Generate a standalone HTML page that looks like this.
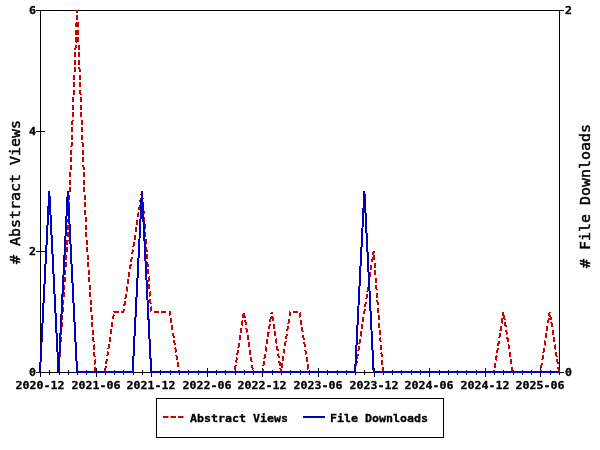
<!DOCTYPE html>
<html><head><meta charset="utf-8"><title>Chart</title>
<style>html,body{margin:0;padding:0;background:#fff}svg{display:block}</style></head>
<body>
<svg width="600" height="450" viewBox="0 0 600 450">
<rect width="600" height="450" fill="#fff"/>
<g stroke="#000" stroke-width="1" shape-rendering="crispEdges" fill="none">
<path d="M40.5 10.5V372.5 M559.5 10.5V372.5 M40.5 10.5H559.5 M40.5 372.5H559.5"/>
<path d="M36 372.5H45"/>
<path d="M36 251.5H45"/>
<path d="M36 131.5H45"/>
<path d="M36 10.5H45"/>
<path d="M555 372.5H564"/>
<path d="M555 10.5H564"/>
<path d="M40.5 368V377"/>
<path d="M49.5 370V375"/>
<path d="M59.5 370V375"/>
<path d="M68.5 370V375"/>
<path d="M77.5 370V375"/>
<path d="M86.5 370V375"/>
<path d="M96.5 368V377"/>
<path d="M105.5 370V375"/>
<path d="M114.5 370V375"/>
<path d="M123.5 370V375"/>
<path d="M133.5 370V375"/>
<path d="M142.5 370V375"/>
<path d="M151.5 368V377"/>
<path d="M160.5 370V375"/>
<path d="M170.5 370V375"/>
<path d="M179.5 370V375"/>
<path d="M188.5 370V375"/>
<path d="M198.5 370V375"/>
<path d="M207.5 368V377"/>
<path d="M216.5 370V375"/>
<path d="M225.5 370V375"/>
<path d="M235.5 370V375"/>
<path d="M244.5 370V375"/>
<path d="M253.5 370V375"/>
<path d="M262.5 368V377"/>
<path d="M272.5 370V375"/>
<path d="M281.5 370V375"/>
<path d="M290.5 370V375"/>
<path d="M300.5 370V375"/>
<path d="M309.5 370V375"/>
<path d="M318.5 368V377"/>
<path d="M327.5 370V375"/>
<path d="M337.5 370V375"/>
<path d="M346.5 370V375"/>
<path d="M355.5 370V375"/>
<path d="M364.5 370V375"/>
<path d="M374.5 368V377"/>
<path d="M383.5 370V375"/>
<path d="M392.5 370V375"/>
<path d="M401.5 370V375"/>
<path d="M411.5 370V375"/>
<path d="M420.5 370V375"/>
<path d="M429.5 368V377"/>
<path d="M439.5 370V375"/>
<path d="M448.5 370V375"/>
<path d="M457.5 370V375"/>
<path d="M466.5 370V375"/>
<path d="M476.5 370V375"/>
<path d="M485.5 368V377"/>
<path d="M494.5 370V375"/>
<path d="M503.5 370V375"/>
<path d="M513.5 370V375"/>
<path d="M522.5 370V375"/>
<path d="M531.5 370V375"/>
<path d="M540.5 368V377"/>
<path d="M550.5 370V375"/>
<path d="M559.5 370V375"/>
</g>
<polyline points="58.54,372.00 67.80,236.25 77.07,10.00 86.34,236.25 95.61,372.00 104.88,372.00 114.14,311.67 123.41,311.67 132.68,251.33 141.95,191.00 151.21,311.67 160.48,311.67 169.75,311.67 179.02,372.00 188.29,372.00 197.55,372.00 206.82,372.00 216.09,372.00 225.36,372.00 234.62,372.00 243.89,311.67 253.16,372.00 262.43,372.00 271.70,311.67 280.96,372.00 290.23,311.67 299.50,311.67 308.77,372.00 318.04,372.00 327.30,372.00 336.57,372.00 345.84,372.00 355.11,372.00 364.38,311.67 373.64,251.33 382.91,372.00 392.18,372.00 401.45,372.00 410.71,372.00 419.98,372.00 429.25,372.00 438.52,372.00 447.79,372.00 457.05,372.00 466.32,372.00 475.59,372.00 484.86,372.00 494.12,372.00 503.39,311.67 512.66,372.00 521.93,372.00 531.20,372.00 540.46,372.00 549.73,311.67 559.00,372.00" fill="none" stroke="#cc0000" stroke-width="2" stroke-dasharray="5 2.5" stroke-linejoin="miter" shape-rendering="crispEdges"/>
<polyline points="40.00,372.00 49.27,191.00 58.54,372.00 67.80,191.00 77.07,372.00 86.34,372.00 95.61,372.00 104.88,372.00 114.14,372.00 123.41,372.00 132.68,372.00 141.95,191.00 151.21,372.00 160.48,372.00 169.75,372.00 179.02,372.00 188.29,372.00 197.55,372.00 206.82,372.00 216.09,372.00 225.36,372.00 234.62,372.00 243.89,372.00 253.16,372.00 262.43,372.00 271.70,372.00 280.96,372.00 290.23,372.00 299.50,372.00 308.77,372.00 318.04,372.00 327.30,372.00 336.57,372.00 345.84,372.00 355.11,372.00 364.38,191.00 373.64,372.00 382.91,372.00 392.18,372.00 401.45,372.00 410.71,372.00 419.98,372.00 429.25,372.00 438.52,372.00 447.79,372.00 457.05,372.00 466.32,372.00 475.59,372.00 484.86,372.00 494.12,372.00 503.39,372.00 512.66,372.00 521.93,372.00 531.20,372.00 540.46,372.00 549.73,372.00 559.00,372.00" fill="none" stroke="#0000c0" stroke-width="2" stroke-linejoin="miter" shape-rendering="crispEdges"/>
<g font-family="DejaVu Sans Mono, Liberation Mono, monospace" font-weight="bold" font-size="11px" stroke="#000" stroke-width="0.3" fill="#000">
<text x="29" y="376" textLength="7" lengthAdjust="spacingAndGlyphs">0</text>
<text x="29" y="255" textLength="7" lengthAdjust="spacingAndGlyphs">2</text>
<text x="29" y="135" textLength="7" lengthAdjust="spacingAndGlyphs">4</text>
<text x="29" y="14" textLength="7" lengthAdjust="spacingAndGlyphs">6</text>
<text x="565" y="376" textLength="7" lengthAdjust="spacingAndGlyphs">0</text>
<text x="565" y="14" textLength="7" lengthAdjust="spacingAndGlyphs">2</text>
<text x="15.5" y="389" textLength="49" lengthAdjust="spacingAndGlyphs">2020-12</text>
<text x="71.5" y="389" textLength="49" lengthAdjust="spacingAndGlyphs">2021-06</text>
<text x="126.5" y="389" textLength="49" lengthAdjust="spacingAndGlyphs">2021-12</text>
<text x="182.5" y="389" textLength="49" lengthAdjust="spacingAndGlyphs">2022-06</text>
<text x="237.5" y="389" textLength="49" lengthAdjust="spacingAndGlyphs">2022-12</text>
<text x="293.5" y="389" textLength="49" lengthAdjust="spacingAndGlyphs">2023-06</text>
<text x="349.5" y="389" textLength="49" lengthAdjust="spacingAndGlyphs">2023-12</text>
<text x="404.5" y="389" textLength="49" lengthAdjust="spacingAndGlyphs">2024-06</text>
<text x="460.5" y="389" textLength="49" lengthAdjust="spacingAndGlyphs">2024-12</text>
<text x="515.5" y="389" textLength="49" lengthAdjust="spacingAndGlyphs">2025-06</text>
<text x="190" y="422" textLength="98" lengthAdjust="spacingAndGlyphs">Abstract Views</text>
<text x="330" y="422" textLength="98" lengthAdjust="spacingAndGlyphs">File Downloads</text>
</g>
<g font-family="DejaVu Sans Mono, Liberation Mono, monospace" font-weight="normal" font-size="14px" stroke="#000" stroke-width="0.45" fill="#000">
<text transform="translate(20,264) rotate(-90)" textLength="144" lengthAdjust="spacingAndGlyphs"># Abstract Views</text>
<text transform="translate(590,268) rotate(-90)" textLength="144" lengthAdjust="spacingAndGlyphs"># File Downloads</text>
</g>
<rect x="156.5" y="398.5" width="287" height="39" fill="none" stroke="#000" stroke-width="1" shape-rendering="crispEdges"/>
<path d="M163 417H183.5" stroke="#cc0000" stroke-width="2" stroke-dasharray="5.5 2" fill="none"/>
<path d="M303 417H325" stroke="#0000c0" stroke-width="2" fill="none"/>
</svg>
</body></html>
